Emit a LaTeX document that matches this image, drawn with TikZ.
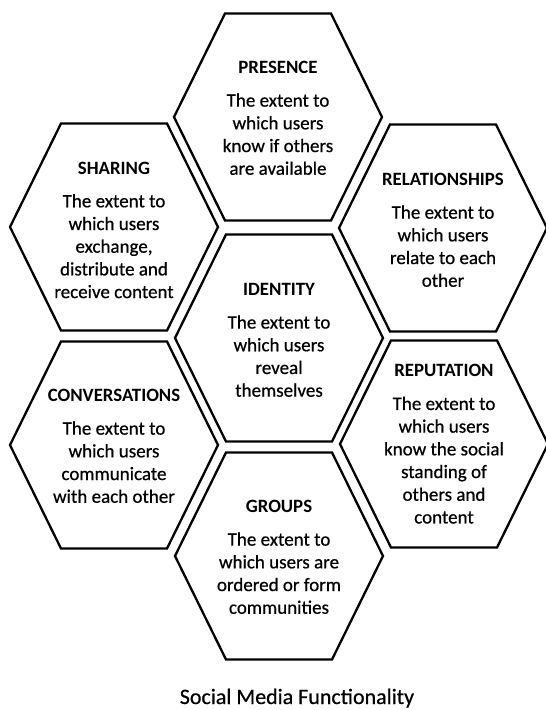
\documentclass[tikz,border=0pt]{standalone}
\usepackage{fontspec}
\setmainfont{Carlito}
\newfontfamily\bodyfont{Carlito}[FakeBold=0.6]
\begin{document}
\begin{tikzpicture}[x=1pt,y=-1pt,
  hexline/.style={line width=2.3pt, line join=miter, black},
  hexa/.pic={\draw[hexline] (-104,0) -- (-53,-103.5) -- (53,-103.5) -- (104,0) -- (53,103.5) -- (-53,103.5) -- cycle;},
  txt/.style={align=center, inner sep=0pt, font=\bodyfont\fontsize{19}{22.7}\selectfont}]
\useasboundingbox (0,0) rectangle (546,710);
\fill[white] (0,0) rectangle (546,710);
\newcommand\hd[1]{{\normalfont\bfseries\fontsize{18.8}{20}\selectfont #1}\\[10.5pt]}
% hexagons
\pic at (278,117) {hexa};
\pic at (114,227) {hexa};
\pic at (443,228) {hexa};
\pic at (279,338) {hexa};
\pic at (114,445) {hexa};
\pic at (444,444) {hexa};
\pic at (279,556) {hexa};
% texts
\node[txt] (presence) at (278,118) {\hd{PRESENCE}The extent to\\which users\\know if others\\are available};
\node[txt] (sharing) at (114,230) {\hd{SHARING}The extent to\\which users\\exchange,\\distribute and\\receive content};
\node[txt] (relationships) at (443,230) {\hd{RELATIONSHIPS}The extent to\\which users\\relate to each\\other};
\node[txt] (identity) at (279,340) {\hd{IDENTITY}The extent to\\which users\\reveal\\themselves};
\node[txt] (conversations) at (114,446) {\hd{CONVERSATIONS}The extent to\\which users\\communicate\\with each other};
\node[txt] (reputation) at (444,444) {\hd{REPUTATION}The extent to\\which users\\know the social\\standing of\\others and\\content};
\node[txt] (groups) at (279,557) {\hd{GROUPS}The extent to\\which users are\\ordered or form\\communities};
\node[anchor=base, inner sep=0pt, font=\bodyfont\fontsize{22}{26}\selectfont] (title) at (297,704) {Social Media Functionality};
\end{tikzpicture}
\end{document}
